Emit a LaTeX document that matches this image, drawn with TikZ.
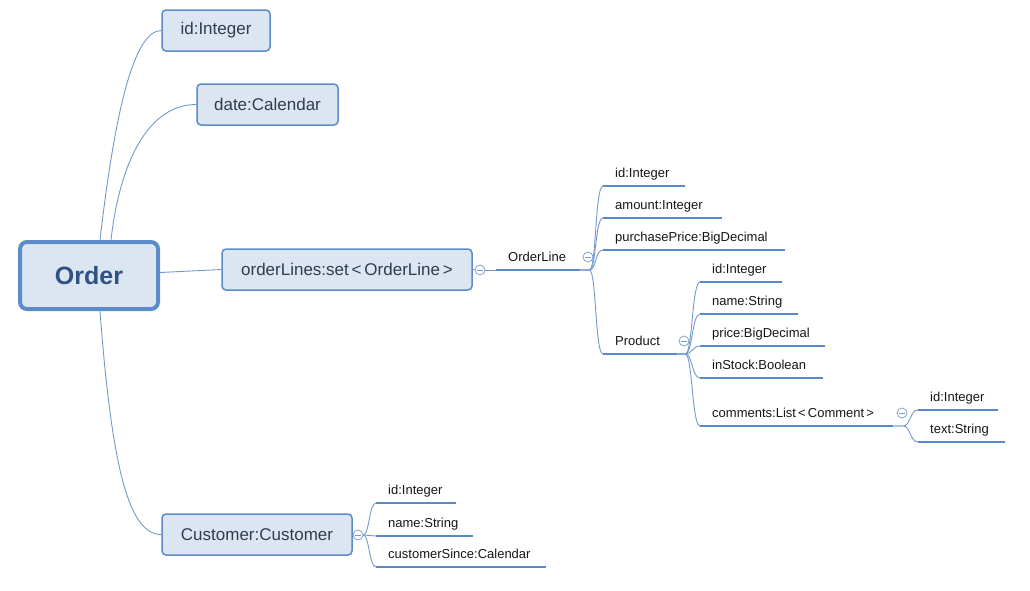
\documentclass[tikz,border=0pt]{standalone}
\usepackage{fontspec}
\setmainfont{Liberation Sans}
\definecolor{boxfill}{HTML}{DCE6F2}
\definecolor{boxline}{HTML}{5B8CC8}
\definecolor{connc}{HTML}{7399CC}
\definecolor{ulc}{HTML}{5A8AC6}
\definecolor{boxtext}{HTML}{2F3D4E}
\definecolor{ordtext}{HTML}{2E5283}
\definecolor{smalltext}{HTML}{151515}
\newcommand\mmtopic[5]{%
  \node[topic] (#1) at (#2,#3) {\makebox[\dimexpr#4pt-24pt\relax][l]{#5}};
  \draw[uline] (#1.south west) -- (#1.south east);}
\newcommand\mmbranch[3]{%
  \draw[conn] (#1) -- ++(#3,0) .. controls +(7,0) and +(-8,0) .. (#2);}
\begin{document}
\begin{tikzpicture}[x=1pt,y=-1pt,
  bigbox/.style={draw=boxline,fill=boxfill,line width=1.5pt,rounded corners=4pt,
    text=boxtext,font=\fontsize{17}{20}\selectfont,minimum height=41pt,inner sep=0pt},
  rootbox/.style={draw=boxline,fill=boxfill,line width=4pt,rounded corners=7pt,
    text=ordtext,font=\fontsize{25}{28}\selectfont\bfseries,minimum width=138pt,minimum height=67pt,inner sep=0pt},
  topic/.style={anchor=south west,inner xsep=12pt,inner ysep=5pt,text height=10pt,text depth=3pt,
    text=smalltext,font=\fontsize{13}{15}\selectfont},
  uline/.style={draw=ulc,line width=2.8pt},
  conn/.style={draw=connc,line width=0.9pt},
  coll/.style={circle,draw=connc,fill=white,line width=0.7pt,minimum size=10pt,inner sep=0pt,
    path picture={\draw[connc,line width=0.7pt]([xshift=-2.6pt]path picture bounding box.center) -- ([xshift=2.6pt]path picture bounding box.center);}}
]
\useasboundingbox (0,0) rectangle (1030,590);

% boxes
\node[rootbox] (order) at (89,275.5) {Order};
\node[bigbox,minimum width=108pt] (idb) at (216,30.5) {id:Integer};
\node[bigbox,minimum width=141pt] (date) at (267.5,104.5) {date:Calendar};
\node[bigbox,minimum width=250pt] (ol) at (347,269.5) {orderLines:set\,<\,OrderLine\,>};
\node[bigbox,minimum width=190pt] (cust) at (257,534.5) {Customer:Customer};

% root connectors
\draw[conn] ([xshift=11pt]order.north) .. controls +(15,-130) and +(-27,0) .. (idb.west);
\draw[conn] ([xshift=22pt]order.north) .. controls +(9,-80) and +(-47,0) .. (date.west);
\draw[conn] ([yshift=3pt]order.east) -- (ol.west);
\draw[conn] ([xshift=11pt]order.south) .. controls +(12,159) and +(-32,0) .. (cust.west);

% orderLines subtree
\mmtopic{ordl}{496}{270}{84}{OrderLine}
\node[coll] (c1) at (480,270) {};
\draw[conn] (ol.east) -- (c1);
\draw[conn] (c1) -- (ordl.south west);
\node[coll] (c2) at (588,257) {};

\mmtopic{a1}{603}{186}{82}{id:Integer}
\mmtopic{a2}{603}{218}{119}{amount:Integer}
\mmtopic{a3}{603}{250}{182}{purchasePrice:BigDecimal}
\mmtopic{prod}{603}{354}{74}{Product}
\foreach \c in {a1,a2,a3,prod}{\mmbranch{ordl.south east}{\c.south west}{9}}

% product subtree
\node[coll] (c3) at (684,341) {};
\mmtopic{p1}{700}{282}{82}{id:Integer}
\mmtopic{p2}{700}{314}{98}{name:String}
\mmtopic{p3}{700}{346}{125}{price:BigDecimal}
\mmtopic{p4}{700}{378}{123}{inStock:Boolean}
\mmtopic{p5}{700}{426}{193}{comments:List\,<\,Comment\,>}
\foreach \c in {p1,p2,p3,p4,p5}{\mmbranch{prod.south east}{\c.south west}{8}}

% comments subtree
\node[coll] (c4) at (902,413) {};
\mmtopic{m1}{918}{410}{80}{id:Integer}
\mmtopic{m2}{918}{442}{87}{text:String}
\foreach \c in {m1,m2}{\mmbranch{p5.south east}{\c.south west}{10}}

% customer subtree
\node[coll] (c5) at (358,535) {};
\draw[conn] (cust.east) -- (c5);
\mmtopic{u1}{376}{503}{80}{id:Integer}
\mmtopic{u2}{376}{536}{97}{name:String}
\mmtopic{u3}{376}{567}{170}{customerSince:Calendar}
\foreach \c in {u1,u2,u3}{\draw[conn] (c5.east) .. controls +(6,0) and +(-7,0) .. (\c.south west);}
\end{tikzpicture}
\end{document}
